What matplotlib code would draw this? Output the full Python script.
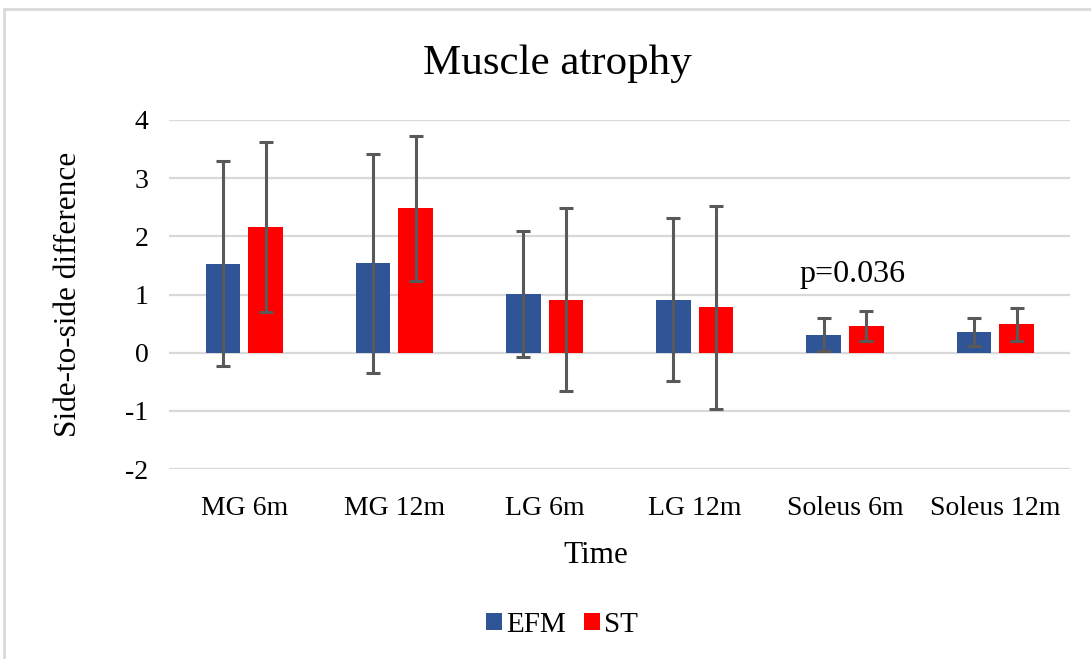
import numpy as np
import matplotlib.pyplot as plt
from matplotlib.patches import Rectangle

plt.rcParams['font.family'] = ['Liberation Serif', 'DejaVu Serif']
plt.rcParams['axes.unicode_minus'] = False

categories = ["MG 6m", "MG 12m", "LG 6m", "LG 12m", "Soleus 6m", "Soleus 12m"]
efm_mean = [1.53, 1.54, 1.01, 0.91, 0.31, 0.36]
efm_sd = [1.76, 1.88, 1.08, 1.40, 0.28, 0.24]
st_mean = [2.16, 2.48, 0.91, 0.78, 0.46, 0.49]
st_sd = [1.46, 1.25, 1.57, 1.74, 0.25, 0.28]

fig = plt.figure(figsize=(10.91, 6.59), dpi=100)
ax = fig.add_axes([0.155, 0.288, 0.826, 0.530])

x = np.arange(len(categories))
w = 0.23
off = 0.142
err_kw = dict(ecolor='#595959', elinewidth=2.2, capsize=4.7, capthick=2.2)
ax.bar(x - off, efm_mean, w, yerr=efm_sd, color='#2F5597', label='EFM',
       error_kw=err_kw, zorder=3)
ax.bar(x + off, st_mean, w, yerr=st_sd, color='#FF0000', label='ST',
       error_kw=err_kw, zorder=3)

ax.set_ylim(-2, 4)
ax.set_xlim(-0.5, len(categories) - 0.5)
ax.set_yticks(range(-2, 5))
ax.set_xticks(x)
ax.set_xticklabels(categories)
ax.tick_params(axis='both', length=0, labelsize=20)
ax.tick_params(axis='x', pad=19)
ax.tick_params(axis='y', pad=15)
ax.grid(axis='y', color='#D9D9D9', linewidth=1.6, zorder=0)
ax.set_axisbelow(True)
for s in ax.spines.values():
    s.set_visible(False)

fig.text(0.511, 0.903, "Muscle atrophy", fontsize=31, ha='center', va='center')
ax.set_xlabel("Time", fontsize=22.5)
ax.xaxis.set_label_coords(0.473, -0.205)
ax.set_ylabel("Side-to-side difference", fontsize=22.5, labelpad=30)
ax.text(4.05, 1.35, "p=0.036", fontsize=23, ha='center', va='center')

fig.legend(loc='center', bbox_to_anchor=(0.515, 0.052), ncol=2,
           frameon=False, fontsize=21, handlelength=0.55, handleheight=0.55,
           handletextpad=0.15, columnspacing=0.6)

fig.patches.append(Rectangle((0.004, -0.01), 1.1, 1.0 - 9 / 659 + 0.01,
                             transform=fig.transFigure, fill=False,
                             edgecolor='#D9D9D9', linewidth=2))

plt.savefig("out.png", dpi=100)
